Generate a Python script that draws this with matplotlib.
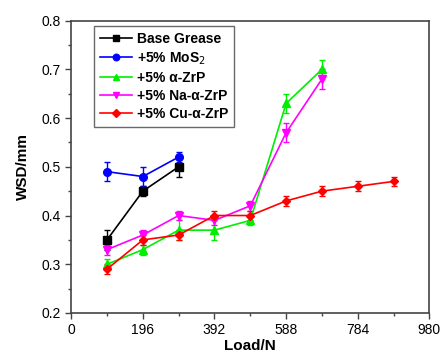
import matplotlib
matplotlib.use("Agg")
from matplotlib import pyplot as plt
from matplotlib.ticker import MultipleLocator

plt.rcParams['font.family'] = ['Liberation Sans', 'DejaVu Sans']

# loads (N) and wear scar diameters (mm)
load = [98, 196, 294, 392, 490, 588, 686, 784, 882]

base_y = [0.35, 0.45, 0.50]
base_err = [0.02, 0.01, 0.02]

mos2_y = [0.49, 0.48, 0.52]
mos2_err = [0.02, 0.02, 0.01]

zrp_y = [0.30, 0.33, 0.37, 0.37, 0.39, 0.63, 0.70]
zrp_err = [0.01, 0.01, 0.02, 0.02, 0.01, 0.02, 0.02]

na_y = [0.33, 0.36, 0.40, 0.39, 0.42, 0.57, 0.68]
na_err = [0.01, 0.01, 0.01, 0.01, 0.01, 0.02, 0.02]

cu_y = [0.29, 0.35, 0.36, 0.40, 0.40, 0.43, 0.45, 0.46, 0.47]
cu_err = [0.01, 0.01, 0.01, 0.01, 0.01, 0.01, 0.01, 0.01, 0.01]

series = [
    ('Base Grease', base_y, base_err, '#000000', 's'),
    ('+5% MoS$_2$', mos2_y, mos2_err, '#0000ff', 'o'),
    ('+5% α-ZrP', zrp_y, zrp_err, '#00ee00', '^'),
    ('+5% Na-α-ZrP', na_y, na_err, '#ff00ff', 'v'),
    ('+5% Cu-α-ZrP', cu_y, cu_err, '#ff0000', 'D'),
]

fig, ax = plt.subplots(figsize=(4.45, 3.61), dpi=100)
fig.subplots_adjust(left=0.16, right=0.965, top=0.943, bottom=0.133)

handles = []
for name, y, err, c, m in series:
    eb = ax.errorbar(load[:len(y)], y, yerr=err, color=c, marker=m,
                     markersize=5.5 if m != 'D' else 4.5,
                     linewidth=1.2, elinewidth=1.0, capsize=2.5, capthick=1.0, label=name)
    handles.append(eb[0])

ax.set_xlim(0, 980)
ax.set_ylim(0.2, 0.8)
ax.set_xticks([0, 196, 392, 588, 784, 980])
ax.xaxis.set_minor_locator(MultipleLocator(98))
ax.yaxis.set_major_locator(MultipleLocator(0.1))
ax.yaxis.set_minor_locator(MultipleLocator(0.05))
ax.tick_params(which='major', direction='out', length=4, width=1, labelsize=10, color='#444444')
ax.tick_params(which='minor', direction='out', length=2.5, width=1, color='#444444')
for s in ax.spines.values():
    s.set_color('#444444')
    s.set_linewidth(1.2)

ax.set_xlabel('Load/N', fontsize=11, fontweight='bold', labelpad=1)
ax.set_ylabel('WSD/mm', fontsize=11, fontweight='bold', labelpad=8)

leg = ax.legend(handles=handles, labels=[s[0] for s in series],
                loc='upper left', bbox_to_anchor=(0.065, 0.98), prop={'weight': 'bold', 'size': 10},
                frameon=True, fancybox=False, edgecolor='#444444', handlelength=2.3,
                labelspacing=0.3, borderpad=0.4, handletextpad=0.35, borderaxespad=0,
                markerscale=0.85)
leg.get_frame().set_linewidth(1.0)

plt.savefig('out.png', dpi=100)
